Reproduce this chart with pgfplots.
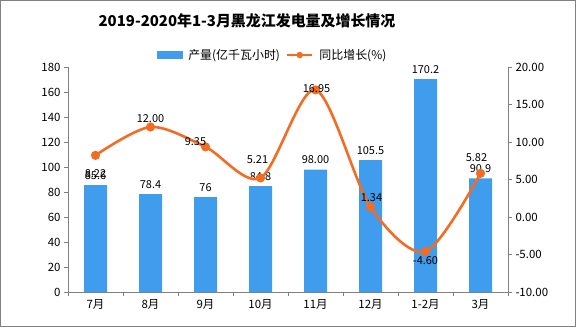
\documentclass[border=0pt]{standalone}
\usepackage{pgfplots}
\pgfplotsset{compat=1.18}
\usepackage{fontspec}
\setmainfont{Noto Sans CJK SC}
\definecolor{barblue}{RGB}{64,156,236}
\definecolor{lineorange}{RGB}{242,108,36}
\definecolor{axgray}{RGB}{128,128,128}
\begin{document}
\begin{tikzpicture}[x=1bp,y=1bp]
\draw[axgray, line width=0.8bp] (0.4,0.4) rectangle (575.6,326.6);
\node[font=\fontsize{15}{15}\selectfont\bfseries] at (247,306) {2019-2020年1-3月黑龙江发电量及增长情况};
\begin{axis}[
  at={(68bp,35bp)}, anchor=south west, scale only axis,
  width=440bp, height=225bp,
  xmin=-0.5, xmax=7.5, ymin=0, ymax=180,
  axis x line*=bottom, axis y line*=left,
  axis line style={axgray, line width=0.6bp},
  xtick={-0.5,0.5,...,7.5}, x tick label as interval,
  xticklabels={7月,8月,9月,10月,11月,12月,1-2月,3月},
  ytick={0,20,...,180},
  tick style={axgray, line width=0.6bp},
  tick align=outside, major tick length=4bp,
  ticklabel style={font=\fontsize{11.5}{12}\selectfont},
  /pgf/number format/assume math mode=true,
  clip=false,
]
\addplot[ybar, bar width=23bp, fill=barblue, draw=none,
  nodes near coords, point meta=explicit symbolic,
  every node near coord/.append style={font=\fontsize{11}{12}\selectfont, black, yshift=2bp}]
  table[meta=lab] {
x y lab
0 85.6 85.6
1 78.4 78.4
2 76 76
3 84.8 84.8
4 98.0 98.00
5 105.5 105.5
6 170.2 170.2
7 90.9 90.9
};
\end{axis}
\begin{axis}[
  at={(68bp,35bp)}, anchor=south west, scale only axis,
  width=440bp, height=225bp,
  xmin=-0.5, xmax=7.5, ymin=-10, ymax=20,
  axis x line=none, axis y line*=right,
  axis line style={axgray, line width=0.6bp},
  ytick={-10,-5,...,20},
  tick style={axgray, line width=0.6bp},
  tick align=outside, major tick length=4bp,
  ticklabel style={font=\fontsize{11.5}{12}\selectfont},
  yticklabel style={/pgf/number format/.cd, fixed, fixed zerofill, precision=2},
  /pgf/number format/assume math mode=true,
  clip=false,
  legend columns=2,
  legend style={at={(0.465,1.0)}, anchor=south, yshift=2bp, draw=none, fill=none,
    font=\fontsize{12}{12}\selectfont, column sep=4bp},
]
\addlegendimage{legend image code/.code={\fill[barblue] (0bp,-3bp) rectangle (25bp,3.5bp);}}
\addlegendentry{产量(亿千瓦小时)\hspace{14bp}}
\addlegendimage{legend image code/.code={\draw[lineorange, line width=2.4bp] (0bp,0bp) -- (25bp,0bp); \fill[lineorange] (12.5bp,0bp) circle (3bp);}}
\addlegendentry{同比增长(\%)}
\addplot[lineorange, line width=2.6bp, smooth, tension=0.5, mark=*, mark size=3.2bp,
  mark options={fill=lineorange, draw=lineorange}]
  table {
x y
0 8.22
1 12.00
2 9.35
3 5.21
4 16.95
5 1.34
6 -4.60
7 5.82
};
\addplot[draw=none, mark=none, nodes near coords, point meta=explicit symbolic,
  visualization depends on={\thisrow{dx} \as \ldx},
  visualization depends on={\thisrow{dy} \as \ldy},
  every node near coord/.append style={font=\fontsize{11}{12}\selectfont, black,
    anchor=center, xshift=\ldx bp, yshift=\ldy bp}]
  table[meta=lab] {
x y lab dx dy
0 8.22 8.22 0 -18
1 12.00 12.00 0 8
2 9.35 9.35 -10 5
3 5.21 5.21 -3 18
4 16.95 16.95 1 1
5 1.34 1.34 1 9
6 -4.60 -4.60 0 -9
7 5.82 5.82 -4 16
};
\end{axis}
\end{tikzpicture}
\end{document}
